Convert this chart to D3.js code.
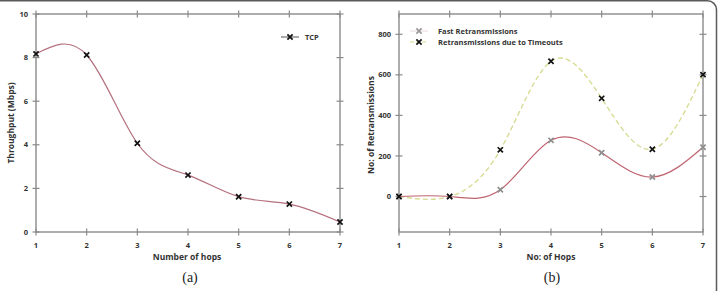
<!DOCTYPE html>
<html lang="en">
    <head>
        <meta charset="utf-8">
        <title>Throughput and Retransmissions</title>
        <script type="text/javascript" src="https://d3js.org/d3.v7.min.js"></script>
        <style type="text/css">
            body { margin: 0; background: #fff; }
            text { font-family: "Open Sans", "DejaVu Sans", sans-serif; }
            text.cap { font-family: "Liberation Serif", "DejaVu Serif", serif; }
        </style>
    </head>
    <body>
        <script type="text/javascript">

                const width = 720;
                const height = 291;

                // data
                const hops = [1, 2, 3, 4, 5, 6, 7];
                const throughput = [8.17, 8.12, 4.07, 2.61, 1.62, 1.28, 0.46];
                const fastRetx = [0, 0, 33, 277, 216, 96, 243];
                const timeoutRetx = [0, 0, 230, 667, 484, 233, 601];

                const ticksA = [0, 2, 4, 6, 8, 10];
                const ticksB = [0, 200, 400, 600, 800];

                const svg = d3.select("body")
                              .append("svg")
                              .attr("width", width)
                              .attr("height", height);

                // outer frame
                svg.append("rect")
                    .attr("x", -12).attr("y", 0.75)
                    .attr("width", 728.5).attr("height", 310)
                    .attr("rx", 9)
                    .attr("fill", "none")
                    .attr("stroke", "#5a5a5a")
                    .attr("stroke-width", 1.5);

                const axisColor = "#8a8a8a";

                // draws box with crossing ticks on all four sides
                function drawFrame(g, x, y, yTicks) {
                    const [x0, x1] = x.range();
                    const [y0, y1] = y.range();
                    g.append("rect")
                        .attr("x", x0).attr("y", y1)
                        .attr("width", x1 - x0).attr("height", y0 - y1)
                        .attr("fill", "none")
                        .attr("stroke", axisColor)
                        .attr("stroke-width", 1.4);

                    hops.forEach(h => {
                        [y0, y1].forEach(yy => {
                            g.append("line")
                                .attr("x1", x(h)).attr("x2", x(h))
                                .attr("y1", yy - 3.5).attr("y2", yy + 3.5)
                                .attr("stroke", axisColor).attr("stroke-width", 1.2);
                        });
                        g.append("text")
                            .attr("x", x(h)).attr("y", y0 + 16)
                            .attr("text-anchor", "middle")
                            .attr("font-size", 7.5).attr("font-weight", "bold")
                            .attr("fill", "#333")
                            .text(h);
                    });
                    yTicks.forEach(t => {
                        [x0, x1].forEach(xx => {
                            g.append("line")
                                .attr("x1", xx - 3.5).attr("x2", xx + 3.5)
                                .attr("y1", y(t)).attr("y2", y(t))
                                .attr("stroke", axisColor).attr("stroke-width", 1.2);
                        });
                        g.append("text")
                            .attr("x", x0 - 8).attr("y", y(t) + 2.6)
                            .attr("text-anchor", "end")
                            .attr("font-size", 7.5).attr("font-weight", "bold")
                            .attr("fill", "#333")
                            .text(t);
                    });
                }

                function cross(g, cx, cy, color) {
                    const s = 2.6;
                    g.append("path")
                        .attr("d", `M${cx - s},${cy - s}L${cx + s},${cy + s}M${cx - s},${cy + s}L${cx + s},${cy - s}`)
                        .attr("stroke", color)
                        .attr("stroke-width", 1.7)
                        .attr("fill", "none");
                }

                // ---------- panel (a) ----------
                const xA = d3.scaleLinear().domain([1, 7]).range([36, 340]);
                const yA = d3.scaleLinear().domain([0, 10]).range([232, 14]);
                const gA = svg.append("g");
                drawFrame(gA, xA, yA, ticksA);

                const lineA = d3.line()
                                .x((d, i) => xA(hops[i]))
                                .y(d => yA(d))
                                .curve(d3.curveNatural);
                gA.append("path")
                    .attr("d", lineA(throughput))
                    .attr("fill", "none")
                    .attr("stroke", "#b4707e")
                    .attr("stroke-width", 1.2);
                throughput.forEach((d, i) => cross(gA, xA(hops[i]), yA(d), "#111"));

                // legend a
                gA.append("line")
                    .attr("x1", 281).attr("x2", 299).attr("y1", 37).attr("y2", 37)
                    .attr("stroke", "#555").attr("stroke-width", 1);
                cross(gA, 290, 37, "#111");
                gA.append("text")
                    .attr("x", 305).attr("y", 40)
                    .attr("font-size", 7.5).attr("font-weight", "bold").attr("fill", "#333")
                    .text("TCP");

                gA.append("text")
                    .attr("transform", "translate(14,123) rotate(-90)")
                    .attr("text-anchor", "middle")
                    .attr("font-size", 8.5).attr("font-weight", "bold").attr("fill", "#333")
                    .text("Throughput (Mbps)");
                gA.append("text")
                    .attr("x", 187).attr("y", 260)
                    .attr("text-anchor", "middle")
                    .attr("font-size", 8.5).attr("font-weight", "bold").attr("fill", "#333")
                    .text("Number of hops");
                gA.append("text")
                    .attr("class", "cap")
                    .attr("x", 190).attr("y", 282)
                    .attr("text-anchor", "middle")
                    .attr("font-size", 14).attr("fill", "#222")
                    .text("(a)");

                // ---------- panel (b) ----------
                const xB = d3.scaleLinear().domain([1, 7]).range([399, 703]);
                const yB = d3.scaleLinear().domain([-175, 900]).range([232, 14]);
                const gB = svg.append("g");
                drawFrame(gB, xB, yB, ticksB);

                const lineB = d3.line()
                                .x((d, i) => xB(hops[i]))
                                .y(d => yB(d))
                                .curve(d3.curveNatural);
                gB.append("path")
                    .attr("d", lineB(timeoutRetx))
                    .attr("fill", "none")
                    .attr("stroke", "#d6da8e")
                    .attr("stroke-width", 1.3)
                    .attr("stroke-dasharray", "5,3");
                gB.append("path")
                    .attr("d", lineB(fastRetx))
                    .attr("fill", "none")
                    .attr("stroke", "#bf6470")
                    .attr("stroke-width", 1.2);
                fastRetx.forEach((d, i) => cross(gB, xB(hops[i]), yB(d), "#8e8e8e"));
                timeoutRetx.forEach((d, i) => cross(gB, xB(hops[i]), yB(d), "#111"));

                // legend b
                gB.append("line")
                    .attr("x1", 410).attr("x2", 428).attr("y1", 31).attr("y2", 31)
                    .attr("stroke", "#ead8da").attr("stroke-width", 1);
                cross(gB, 419, 31, "#999");
                gB.append("line")
                    .attr("x1", 410).attr("x2", 428).attr("y1", 42).attr("y2", 42)
                    .attr("stroke", "#d6da8e").attr("stroke-width", 1.2)
                    .attr("stroke-dasharray", "4,2");
                cross(gB, 419, 42, "#111");
                gB.append("text")
                    .attr("x", 438).attr("y", 34)
                    .attr("font-size", 7.5).attr("font-weight", "bold").attr("fill", "#333")
                    .text("Fast Retransmissions");
                gB.append("text")
                    .attr("x", 438).attr("y", 45)
                    .attr("font-size", 7.5).attr("font-weight", "bold").attr("fill", "#333")
                    .text("Retransmissions due to Timeouts");

                gB.append("text")
                    .attr("transform", "translate(374,125) rotate(-90)")
                    .attr("text-anchor", "middle")
                    .attr("font-size", 8.5).attr("font-weight", "bold").attr("fill", "#333")
                    .text("No: of Retransmissions");
                gB.append("text")
                    .attr("x", 551).attr("y", 260)
                    .attr("text-anchor", "middle")
                    .attr("font-size", 8.5).attr("font-weight", "bold").attr("fill", "#333")
                    .text("No: of Hops");
                gB.append("text")
                    .attr("class", "cap")
                    .attr("x", 552).attr("y", 282)
                    .attr("text-anchor", "middle")
                    .attr("font-size", 14).attr("fill", "#222")
                    .text("(b)");

        </script>
    </body>
</html>
